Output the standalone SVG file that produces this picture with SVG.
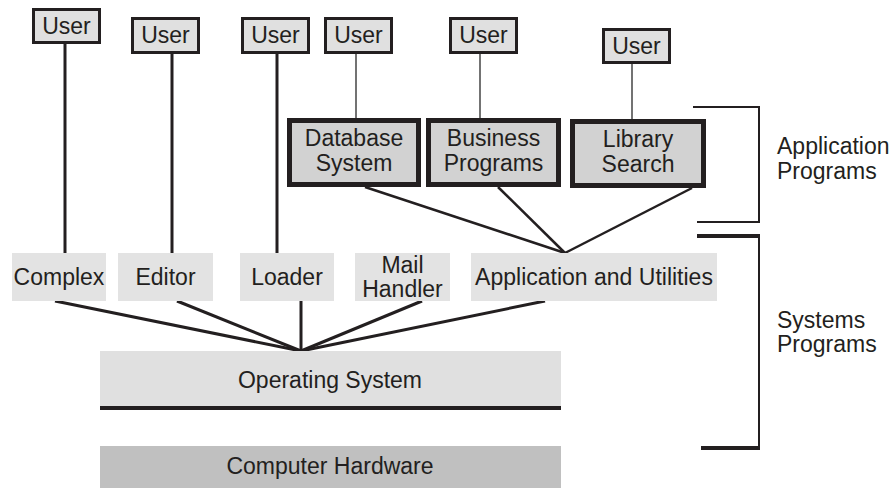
<svg xmlns="http://www.w3.org/2000/svg" width="895" height="488" viewBox="0 0 895 488">
  <style>
    text { font-family: "Liberation Sans", Arial, sans-serif; font-size: 23px; fill: #231f20; }
    .c { text-anchor: middle; }
    .user { fill: #e0e0e0; stroke: #231f20; stroke-width: 3; }
    .app { fill: #d2d2d2; stroke: #231f20; stroke-width: 5; }
    .util { fill: #e3e3e3; }
    .os { fill: #e0e0e0; }
    .hw { fill: #c0c0c0; }
    .thick { stroke: #231f20; stroke-width: 3; fill: none; }
    .mid { stroke: #231f20; stroke-width: 2.5; fill: none; }
    .thin { stroke: #444; stroke-width: 1.5; fill: none; }
    .brk { stroke: #231f20; stroke-width: 2; fill: none; }
    .bar { stroke: #231f20; stroke-width: 4; fill: none; }
  </style>

  <!-- connectors -->
  <g id="connectors">
    <line class="thick" x1="65" y1="44" x2="65" y2="253"/>
    <line class="thick" x1="172" y1="54" x2="172" y2="253"/>
    <line class="thick" x1="277" y1="54" x2="277" y2="253"/>
    <line class="thin" x1="356" y1="54" x2="356" y2="118"/>
    <line class="thin" x1="480" y1="54" x2="480" y2="118"/>
    <line class="thin" x1="632" y1="63" x2="632" y2="119"/>
    <line class="mid" x1="365" y1="187" x2="565" y2="253"/>
    <line class="mid" x1="498" y1="187" x2="565" y2="253"/>
    <line class="mid" x1="692" y1="188" x2="565" y2="253"/>
    <line class="thick" x1="55" y1="301" x2="301" y2="351"/>
    <line class="thick" x1="177" y1="301" x2="301" y2="351"/>
    <line class="thick" x1="301" y1="301" x2="301" y2="351"/>
    <line class="thick" x1="422" y1="301" x2="301" y2="351"/>
    <line class="thick" x1="545" y1="301" x2="301" y2="351"/>
  </g>

  <!-- users -->
  <g id="user1"><rect class="user" x="33.5" y="9.5" width="66" height="33"/><text class="c" x="66.5" y="34">User</text></g>
  <g id="user2"><rect class="user" x="132.5" y="18.5" width="66" height="34"/><text class="c" x="165.5" y="43">User</text></g>
  <g id="user3"><rect class="user" x="242.5" y="18.5" width="66" height="34"/><text class="c" x="275.5" y="43">User</text></g>
  <g id="user4"><rect class="user" x="325.5" y="18.5" width="66" height="34"/><text class="c" x="358.5" y="43">User</text></g>
  <g id="user5"><rect class="user" x="450.5" y="18.5" width="66" height="34"/><text class="c" x="483.5" y="43">User</text></g>
  <g id="user6"><rect class="user" x="603.5" y="29.5" width="66" height="33"/><text class="c" x="636.5" y="54">User</text></g>

  <!-- application programs -->
  <g id="database">
    <rect class="app" x="289.5" y="120.5" width="129" height="64"/>
    <text class="c" x="354" y="146">Database</text>
    <text class="c" x="354" y="171">System</text>
  </g>
  <g id="business">
    <rect class="app" x="428.5" y="120.5" width="130" height="64"/>
    <text class="c" x="493.5" y="146">Business</text>
    <text class="c" x="493.5" y="171">Programs</text>
  </g>
  <g id="library">
    <rect class="app" x="572.5" y="121.5" width="131" height="64"/>
    <text class="c" x="638" y="147">Library</text>
    <text class="c" x="638" y="172">Search</text>
  </g>

  <!-- system programs -->
  <g id="complex"><rect class="util" x="12" y="253" width="94" height="48"/><text class="c" x="59" y="285">Complex</text></g>
  <g id="editor"><rect class="util" x="118" y="253" width="95" height="48"/><text class="c" x="165.5" y="285">Editor</text></g>
  <g id="loader"><rect class="util" x="240" y="253" width="94" height="48"/><text class="c" x="287" y="285">Loader</text></g>
  <g id="mail"><rect class="util" x="355" y="253" width="95" height="48"/><text class="c" x="402.5" y="273">Mail</text><text class="c" x="402.5" y="297">Handler</text></g>
  <g id="apputil"><rect class="util" x="471" y="253" width="246" height="48"/><text class="c" x="594" y="285">Application and Utilities</text></g>

  <g id="os">
    <rect class="os" x="100" y="351" width="461" height="55"/>
    <line class="bar" x1="100" y1="408" x2="561" y2="408"/>
    <text class="c" x="330" y="388">Operating System</text>
  </g>
  <g id="hardware">
    <rect class="hw" x="100" y="446" width="461" height="42"/>
    <text class="c" x="330" y="474">Computer Hardware</text>
  </g>

  <!-- brackets -->
  <g id="app-bracket">
    <polyline class="brk" points="693,107 759,107 759,222 697,222"/>
    <text x="777" y="154">Application</text>
    <text x="777" y="179">Programs</text>
  </g>
  <g id="sys-bracket">
    <line class="bar" x1="697" y1="236" x2="760" y2="236"/>
    <line class="brk" x1="759" y1="234" x2="759" y2="450"/>
    <line class="bar" x1="701" y1="448" x2="760" y2="448"/>
    <text x="777" y="328">Systems</text>
    <text x="777" y="352">Programs</text>
  </g>
</svg>
